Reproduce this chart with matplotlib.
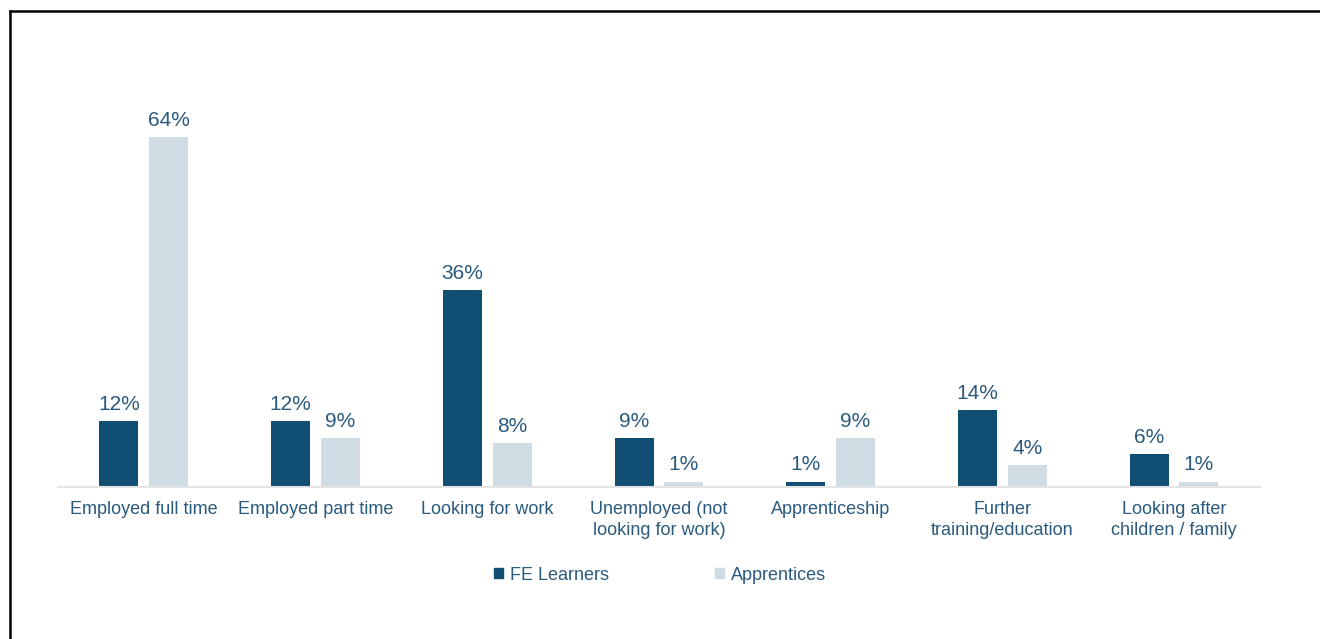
import matplotlib
matplotlib.use("Agg")
import matplotlib.pyplot as plt
from matplotlib.lines import Line2D
from matplotlib.patches import Patch
import numpy as np

plt.rcParams['font.family'] = ['Liberation Sans', 'DejaVu Sans']

categories = ["Employed full time", "Employed part time", "Looking for work",
              "Unemployed (not\nlooking for work)", "Apprenticeship",
              "Further\ntraining/education", "Looking after\nchildren / family"]
fe_learners = [12, 12, 36, 9, 1, 14, 6]
apprentices = [64, 9, 8, 1, 9, 4, 1]
series_names = ["FE Learners", "Apprentices"]

dark = '#114E73'
light = '#D0DCE4'
text_col = '#2A5A7E'

fig = plt.figure(figsize=(13.2, 6.39), dpi=100)
ax = fig.add_axes([0.0439, 0.2379, 0.9106, 0.7042])

x = np.arange(len(categories))
w = 0.227
off = 0.145
b1 = ax.bar(x - off, fe_learners, w, color=dark)
b2 = ax.bar(x + off, apprentices, w, color=light)

# value labels above each bar
for bars, vals in ((b1, fe_learners), (b2, apprentices)):
    for rect, v in zip(bars, vals):
        ax.annotate(f"{v}%", (rect.get_x() + rect.get_width() / 2, v),
                    xytext=(0, 8), textcoords='offset points',
                    ha='center', va='baseline', fontsize=15, color=text_col)

ax.set_xlim(-0.5, len(categories) - 0.5)
ax.set_ylim(0, 82.3)
ax.set_xticks(x)
ax.set_xticklabels(categories, fontsize=13, color=text_col, linespacing=1.35)
ax.tick_params(axis='x', length=0, pad=10)
ax.set_yticks([])
for s in ('top', 'right', 'left'):
    ax.spines[s].set_visible(False)
ax.spines['bottom'].set_color('#E4E4E4')
ax.spines['bottom'].set_linewidth(1.5)

handles = [Patch(color=dark), Patch(color=light)]
fig.legend(handles, series_names, loc='center', bbox_to_anchor=(0.5, 0.1),
           ncol=2, frameon=False, fontsize=13, labelcolor=text_col,
           handlelength=0.5, handleheight=0.5, handletextpad=0.35,
           columnspacing=5.9)

# outer frame on the left and top edges
fig.add_artist(Line2D([10 / 1320, 10 / 1320], [0, 1 - 11 / 639], color='black', lw=1.8))
fig.add_artist(Line2D([10 / 1320, 1], [1 - 11 / 639, 1 - 11 / 639], color='black', lw=1.8))

fig.savefig("out.png", dpi=100)
